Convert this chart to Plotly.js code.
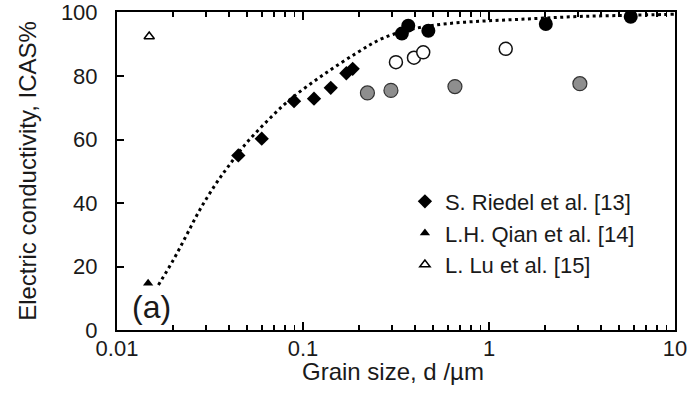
<!DOCTYPE html>
<html>
<head>
<meta charset="utf-8">
<script src="https://cdn.plot.ly/plotly-3.0.1.min.js"></script>
<style>html,body{margin:0;padding:0;background:#fff;}#chart{width:691px;height:398px;}</style>
</head>
<body>
<div id="chart"></div>
<script>
// Data
var riedelX = [0.0449, 0.060, 0.0895, 0.1146, 0.141, 0.171, 0.185];
var riedelY = [55.0, 60.3, 72.1, 72.9, 76.3, 80.9, 82.3];

var qianX = [0.0147];
var qianY = [14.7];

var luX = [0.0149];
var luY = [92.5];

var blackCircX = [0.340, 0.368, 0.472, 2.02, 5.78];
var blackCircY = [93.4, 95.9, 94.3, 96.4, 98.7];

var greyCircX = [0.222, 0.297, 0.656, 3.08];
var greyCircY = [74.7, 75.5, 76.7, 77.6];

var openCircX = [0.316, 0.395, 0.443, 1.23];
var openCircY = [84.4, 85.8, 87.5, 88.6];

var fitX = [0.0167, 0.0201, 0.0237, 0.0279, 0.0337, 0.0396, 0.0488, 0.0638, 0.085, 0.1285, 0.1945, 0.27, 0.40, 0.593, 0.9, 1.35, 2.0, 3.08, 5.0, 8.6, 10];
var fitY = [14.2, 22.1, 30.0, 37.9, 45.7, 51.5, 58.4, 65.7, 72.6, 80.4, 87.3, 92.0, 95.0, 96.5, 97.3, 97.8, 98.3, 98.8, 99.1, 99.4, 99.5];

var xTickVals = [0.01, 0.1, 1, 10];
var xTickText = ['0.01', '0.1', '1', '10'];
var xMinorVals = [0.02,0.03,0.04,0.05,0.06,0.07,0.08,0.09,0.2,0.3,0.4,0.5,0.6,0.7,0.8,0.9,2,3,4,5,6,7,8,9];
var yTickVals = [0, 20, 40, 60, 80, 100];

var names = ['S. Riedel et al. [13]', 'L.H. Qian et al. [14]', 'L. Lu et al. [15]'];
var xTitle = 'Grain size, d /µm';
var yTitle = 'Electric conductivity, ICAS%';
var panelLabel = '(a)';

var FONT = 'Liberation Sans, Arial, Helvetica, sans-serif';
var TXT = '#1a1a1a';

var traces = [
  {x: fitX, y: fitY, xaxis: 'x2', mode: 'lines', line: {color: '#000', width: 3, dash: '3px,3.5px', shape: 'spline'}, showlegend: false, hoverinfo: 'skip'},
  {x: greyCircX, y: greyCircY, mode: 'markers', marker: {symbol: 'circle', size: 14, color: '#8e8e8e', line: {color: '#333', width: 1.2}}, showlegend: false},
  {x: openCircX, y: openCircY, mode: 'markers', marker: {symbol: 'circle', size: 13, color: '#fff', line: {color: '#111', width: 1.5}}, showlegend: false},
  {x: blackCircX, y: blackCircY, mode: 'markers', marker: {symbol: 'circle', size: 14, color: '#000'}, showlegend: false},
  {x: riedelX, y: riedelY, mode: 'markers', name: names[0], marker: {symbol: 'diamond', size: 11, color: '#000'}},
  {x: qianX, y: qianY, mode: 'markers', name: names[1], marker: {symbol: 'triangle-up', size: 9, color: '#000'}},
  {x: luX, y: luY, mode: 'markers', name: names[2], marker: {symbol: 'triangle-up-open', size: 9, color: '#000', line: {width: 1.5}}}
];

var layout = {
  width: 691, height: 398,
  margin: {l: 117, r: 16, t: 12, b: 68},
  paper_bgcolor: '#fff', plot_bgcolor: '#fff',
  font: {family: FONT, color: TXT, size: 22},
  showlegend: true,
  legend: {x: 0.516, y: 0.47, xanchor: 'left', yanchor: 'top', bgcolor: 'rgba(0,0,0,0)', font: {size: 22, family: FONT, color: TXT}},
  xaxis: {
    type: 'log', range: [-2, 1],
    tickvals: xTickVals, ticktext: xTickText,
    ticks: 'inside', ticklen: 8, tickwidth: 2, tickcolor: '#000',
    showline: true, linecolor: '#000', linewidth: 2, mirror: 'ticks',
    showgrid: false, zeroline: false,
    tickfont: {size: 22, family: FONT, color: TXT},
    ticklabelstandoff: -2
  },
  xaxis2: {
    type: 'log', range: [-2, 1], overlaying: 'x', side: 'bottom', anchor: 'y',
    tickvals: xMinorVals, showticklabels: false,
    ticks: 'inside', ticklen: 5, tickwidth: 1.6, tickcolor: '#000',
    showline: false, mirror: 'ticks', showgrid: false, zeroline: false
  },
  yaxis: {
    range: [0, 100.2],
    tickvals: yTickVals,
    ticks: 'inside', ticklen: 7, tickwidth: 2, tickcolor: '#000',
    showline: true, linecolor: '#000', linewidth: 2, mirror: true,
    showgrid: false, zeroline: false,
    tickfont: {size: 22, family: FONT, color: TXT},
    ticklabelstandoff: 13,
    title: {text: yTitle, font: {size: 24, family: FONT, color: TXT}, standoff: 17}
  },
  annotations: [
    {text: xTitle, xref: 'paper', yref: 'paper', x: 0.495, y: -0.129, xanchor: 'center', yanchor: 'middle', showarrow: false, font: {size: 24, family: FONT, color: TXT}},
    {text: panelLabel, xref: 'paper', yref: 'paper', x: 0.061, y: 0.073, xanchor: 'center', yanchor: 'middle', showarrow: false, font: {size: 32, family: FONT, color: TXT}}
  ]
};

Plotly.newPlot('chart', traces, layout, {displayModeBar: false, staticPlot: true});
</script>
</body>
</html>
